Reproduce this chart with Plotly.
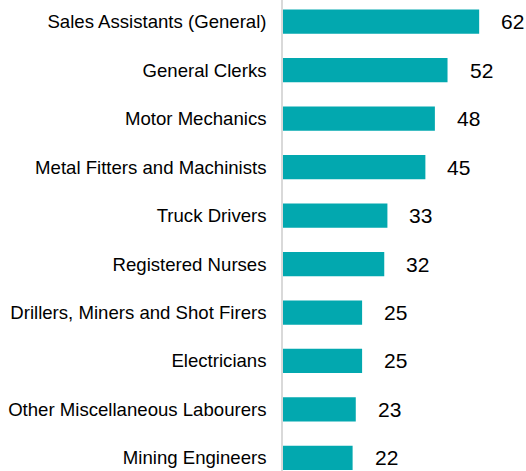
import plotly.graph_objects as go

categories = [
    "Sales Assistants (General)",
    "General Clerks",
    "Motor Mechanics",
    "Metal Fitters and Machinists",
    "Truck Drivers",
    "Registered Nurses",
    "Drillers, Miners and Shot Firers",
    "Electricians",
    "Other Miscellaneous Labourers",
    "Mining Engineers",
]
values = [62, 52, 48, 45, 33, 32, 25, 25, 23, 22]

fig = go.Figure()
fig.add_trace(go.Bar(
    y=categories,
    x=values,
    orientation="h",
    width=0.5,
    marker=dict(color="#02A8AF", line=dict(width=0)),
    hoverinfo="skip",
))

for c, v in zip(categories, values):
    fig.add_annotation(
        x=v, y=c, text=str(v), showarrow=False,
        xanchor="left", yanchor="middle", xshift=20,
        font=dict(family="Liberation Sans, Arial", size=21, color="#000000"),
    )

fig.update_layout(
    width=526, height=471,
    margin=dict(l=283, r=0, t=0, b=0, autoexpand=False),
    paper_bgcolor="white", plot_bgcolor="white",
    showlegend=False,
    font=dict(family="Liberation Sans, Arial", size=18.6, color="#000000"),
    xaxis=dict(range=[0, 76.8], visible=False, fixedrange=True),
    yaxis=dict(
        type="category",
        categoryorder="array", categoryarray=categories,
        range=[9.27, -0.448],
        automargin=False,
        showline=True, linecolor="#D9D9D9", linewidth=1.5,
        showgrid=False, zeroline=False,
        ticks="", ticklabelstandoff=11,
        tickfont=dict(size=18.6, color="#000000"),
    ),
)

fig.write_html(
    "out.html",
    config={"displayModeBar": False},
    post_script="document.body.style.margin='0';document.body.style.overflow='hidden';",
)
